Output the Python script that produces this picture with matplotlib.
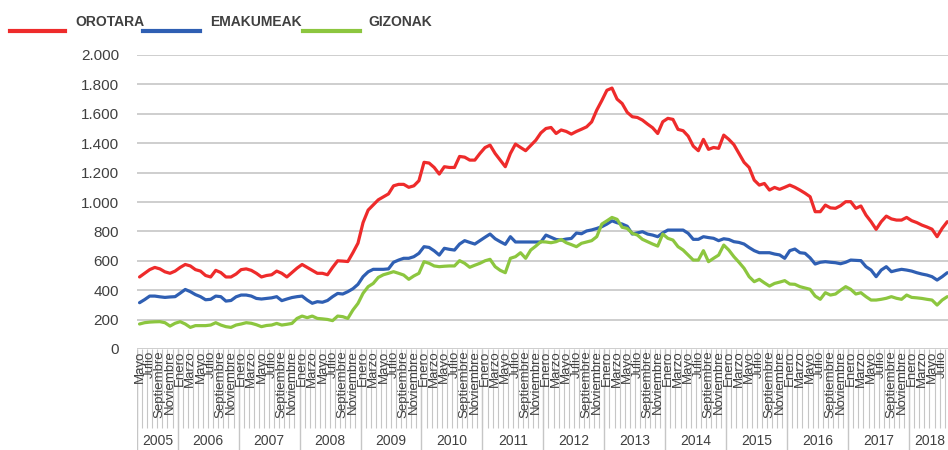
import matplotlib
matplotlib.use('Agg')
import matplotlib.pyplot as plt
from matplotlib.lines import Line2D
from matplotlib.ticker import FuncFormatter, MultipleLocator

plt.rcParams['font.family'] = ['Liberation Sans', 'DejaVu Sans']

MONTHS = ['Enero', 'Febrero', 'Marzo', 'Abril', 'Mayo', 'Junio', 'Julio',
          'Agosto', 'Septiembre', 'Octubre', 'Noviembre', 'Diciembre']
YEARS = list(range(2005, 2019))
FIRST_MONTH = 5  # serie hasieran: Mayo 2005

# monthly values, May 2005 .. Aug 2018
OROTARA = [
    490, 515, 540, 555, 545, 525, 515, 530,                              # 2005
    555, 575, 565, 540, 530, 500, 490, 535, 520, 490, 490, 510,          # 2006
    540, 545, 535, 515, 490, 500, 505, 530, 515, 490, 520, 550,          # 2007
    575, 555, 535, 515, 515, 505, 555, 600, 598, 595, 655, 720,          # 2008
    860, 945, 980, 1015, 1035, 1055, 1110, 1120, 1120, 1100, 1110, 1145,  # 2009
    1270, 1265, 1235, 1190, 1240, 1235, 1235, 1310, 1305, 1285, 1285, 1330,  # 2010
    1370, 1387, 1330, 1285, 1240, 1330, 1394, 1371, 1349, 1385, 1420, 1470,  # 2011
    1500, 1507, 1466, 1490, 1480, 1462, 1480, 1495, 1511, 1545, 1625, 1690,  # 2012
    1760, 1775, 1700, 1670, 1610, 1580, 1575, 1557, 1530, 1505, 1466, 1546,  # 2013
    1569, 1562, 1494, 1485, 1448, 1380, 1349, 1426, 1358, 1371, 1365, 1455,  # 2014
    1426, 1390, 1330, 1270, 1235, 1149, 1115, 1126, 1081, 1099, 1086, 1100,  # 2015
    1115, 1100, 1081, 1060, 1036, 934, 934, 979, 960, 957, 975, 1002,    # 2016
    1002, 957, 973, 911, 866, 814, 866, 904, 885, 877, 877, 895,         # 2017
    873, 860, 843, 830, 815, 764, 821, 866,                              # 2018
]
EMAKUMEAK = [
    315, 336, 360, 360, 355, 351, 354, 356,
    380, 405, 390, 370, 356, 335, 338, 360, 356, 326, 330, 355,
    367, 367, 360, 344, 340, 344, 348, 356, 329, 340, 350, 356,
    360, 333, 311, 322, 318, 330, 356, 378, 374, 390, 410, 440,
    492, 525, 542, 542, 542, 545, 590, 605, 617, 617, 628, 651,
    696, 691, 668, 639, 685, 678, 673, 714, 737, 725, 714, 737,
    760, 782, 750, 730, 712, 764, 728, 728, 728, 728, 728, 728,
    775, 760, 745, 741, 748, 752, 789, 784, 803, 810, 820, 832,
    850, 872, 859, 850, 835, 782, 790, 798, 782, 775, 764, 790,
    809, 809, 809, 809, 787, 746, 746, 764, 758, 753, 737, 750,
    745, 730, 725, 714, 690, 669, 655, 655, 655, 646, 640, 617,
    669, 680, 655, 651, 620, 578, 590, 594, 590, 587, 580, 590,
    605, 603, 601, 560, 537, 492, 537, 560, 526, 535, 542, 537,
    530, 519, 510, 503, 492, 469, 492, 519,
]
GIZONAK = [
    170, 179, 183, 185, 186, 179, 156, 175,
    186, 170, 147, 159, 159, 159, 163, 179, 163, 152, 147, 163,
    170, 179, 175, 165, 152, 160, 163, 174, 163, 168, 174, 208,
    224, 213, 224, 208, 205, 201, 193, 224, 220, 208, 265, 310,
    379, 424, 446, 487, 505, 515, 526, 515, 503, 474, 497, 515,
    594, 583, 565, 560, 563, 565, 565, 601, 583, 556, 570, 583,
    600, 610, 560, 535, 519, 617, 628, 655, 617, 673, 700, 730,
    728, 723, 730, 745, 723, 710, 696, 719, 728, 737, 764, 850,
    872, 895, 882, 828, 820, 787, 775, 746, 730, 714, 700, 782,
    753, 741, 696, 673, 639, 605, 605, 669, 594, 617, 639, 707,
    673, 628, 590, 549, 492, 458, 474, 450, 428, 446, 455, 465,
    442, 440, 424, 415, 406, 360, 338, 383, 367, 374, 400, 424,
    406, 374, 383, 356, 333, 333, 338, 345, 356, 345, 338, 367,
    351, 348, 344, 338, 333, 299, 333, 356,
]

RED = '#ee2b2b'
BLUE = '#2f5fb3'
GREEN = '#8cc63f'
TXT = '#404040'
GRID = '#c6c6c6'


def main():
    W, H = 948, 450
    n = len(OROTARA)
    fig = plt.figure(figsize=(W / 100, H / 100), dpi=100)

    left = 137 / W
    width = n * 5.08 / W
    ax = fig.add_axes([left, (H - 349) / H, width, 294 / H])
    cat = fig.add_axes([left, 0, width, 101 / H], sharex=ax)

    x = list(range(n))
    for vals, col in [(OROTARA, RED), (EMAKUMEAK, BLUE), (GIZONAK, GREEN)]:
        ax.plot(x, vals, color=col, lw=2.3, solid_joinstyle='round',
                solid_capstyle='round', clip_on=False)

    ax.set_xlim(-0.5, n - 0.5)
    ax.set_ylim(0, 2000)
    ax.yaxis.set_major_locator(MultipleLocator(200))
    ax.yaxis.set_major_formatter(FuncFormatter(lambda v, _: f'{int(v):,}'.replace(',', '.')))
    ax.grid(axis='y', color=GRID, lw=1.2)
    ax.set_axisbelow(True)
    for s in ax.spines.values():
        s.set_visible(False)
    ax.tick_params(axis='y', length=0, pad=13, labelsize=11, labelcolor=TXT)
    ax.tick_params(axis='x', bottom=False, labelbottom=False)

    # category table under the plot
    cat.set_ylim(0, 101)
    cat.axis('off')
    cat.vlines([k - 0.5 for k in range(n + 1)], 22, 101, color=GRID, lw=0.8)

    months = [(FIRST_MONTH - 1 + i) % 12 + 1 for i in range(n)]
    starts = [0] + [i for i in range(1, n) if months[i] == 1]
    cat.vlines([s - 0.5 for s in starts] + [n - 0.5], 0, 101, color=GRID, lw=1)

    for i in range(0, n, 2):
        cat.text(i, 99.5, MONTHS[months[i] - 1], rotation=90, ha='center', va='top',
                 fontsize=9.5, color=TXT)

    ends = starts[1:] + [n]
    for year, s, e in zip(YEARS, starts, ends):
        cat.text((s + e - 1) / 2, 9, str(year), ha='center', va='center',
                 fontsize=10, color=TXT)

    # legend
    items = [('OROTARA', RED, 10, 65, 75), ('EMAKUMEAK', BLUE, 143, 200, 210),
             ('GIZONAK', GREEN, 303, 360, 368)]
    for label, col, x0, x1, tx in items:
        fig.add_artist(Line2D([x0 / W, x1 / W], [1 - 31 / H] * 2, color=col, lw=3,
                              transform=fig.transFigure))
        fig.text(tx / W, 1 - 22 / H, label, va='center', ha='left', fontsize=10,
                 fontweight='bold', color=TXT)

    plt.savefig('out.png', dpi=100)
    plt.clf()


if __name__ == "__main__":
    main()
